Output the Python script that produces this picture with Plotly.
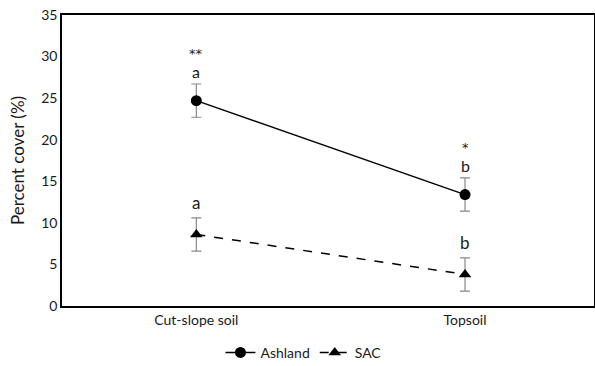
import plotly.graph_objects as go

categories = ["Cut-slope soil", "Topsoil"]
ashland = [24.7, 13.4]
ashland_err = [2.0, 2.0]
sac = [8.6, 3.8]
sac_err = [2.0, 2.0]
ashland_letters = ["a", "b"]
ashland_stars = ["**", "*"]
sac_letters = ["a", "b"]

FONT = "Lato"
TXT = "#1a1a1a"
x_idx = [0, 1]

fig = go.Figure()
fig.add_trace(go.Scatter(
    x=x_idx, y=ashland, name="Ashland", mode="lines+markers",
    line=dict(color="black", width=1.5),
    marker=dict(symbol="circle", size=11, color="black"),
    error_y=dict(type="data", array=ashland_err, color="#888888", thickness=1.2, width=5),
))
fig.add_trace(go.Scatter(
    x=x_idx, y=sac, name="SAC", mode="lines+markers",
    line=dict(color="black", width=1.5, dash="dash"),
    marker=dict(symbol="triangle-up", size=11, color="black"),
    error_y=dict(type="data", array=sac_err, color="#888888", thickness=1.2, width=5),
))

for xi, v, e, t, s in zip(x_idx, ashland, ashland_err, ashland_letters, ashland_stars):
    fig.add_annotation(x=xi, y=v + e, text=t, showarrow=False, yanchor="bottom",
                       yshift=1, font=dict(family=FONT, size=16, color=TXT))
    fig.add_annotation(x=xi, y=v + e, text=s, showarrow=False, yanchor="bottom",
                       yshift=21, font=dict(family="DejaVu Sans", size=13, color=TXT))
for xi, v, e, t in zip(x_idx, sac, sac_err, sac_letters):
    fig.add_annotation(x=xi, y=v + e, text=t, showarrow=False, yanchor="bottom",
                       yshift=3, font=dict(family=FONT, size=17, color=TXT))

fig.update_layout(
    width=595, height=366,
    margin=dict(l=62, r=1, t=15, b=60, autoexpand=False),
    paper_bgcolor="white", plot_bgcolor="white",
    font=dict(family=FONT, size=14, color=TXT),
    showlegend=True,
    legend=dict(orientation="h", x=0.51, xanchor="center", xref="container",
                y=0.036, yanchor="middle", yref="container",
                font=dict(family=FONT, size=14)),
    xaxis=dict(range=[-0.5, 1.48], tickvals=x_idx, ticktext=categories,
               showline=True, linecolor="black", linewidth=1.5, mirror=True,
               showgrid=False, zeroline=False, ticks="", ticklabelstandoff=0,
               automargin=False),
    yaxis=dict(range=[0, 35], dtick=5, showline=True, linecolor="black", linewidth=1.5,
               mirror=True, showgrid=False, zeroline=False, ticks="", automargin=False,
               title=dict(text="Percent cover (%)", standoff=12)),
)

fig.write_html("out.html")
